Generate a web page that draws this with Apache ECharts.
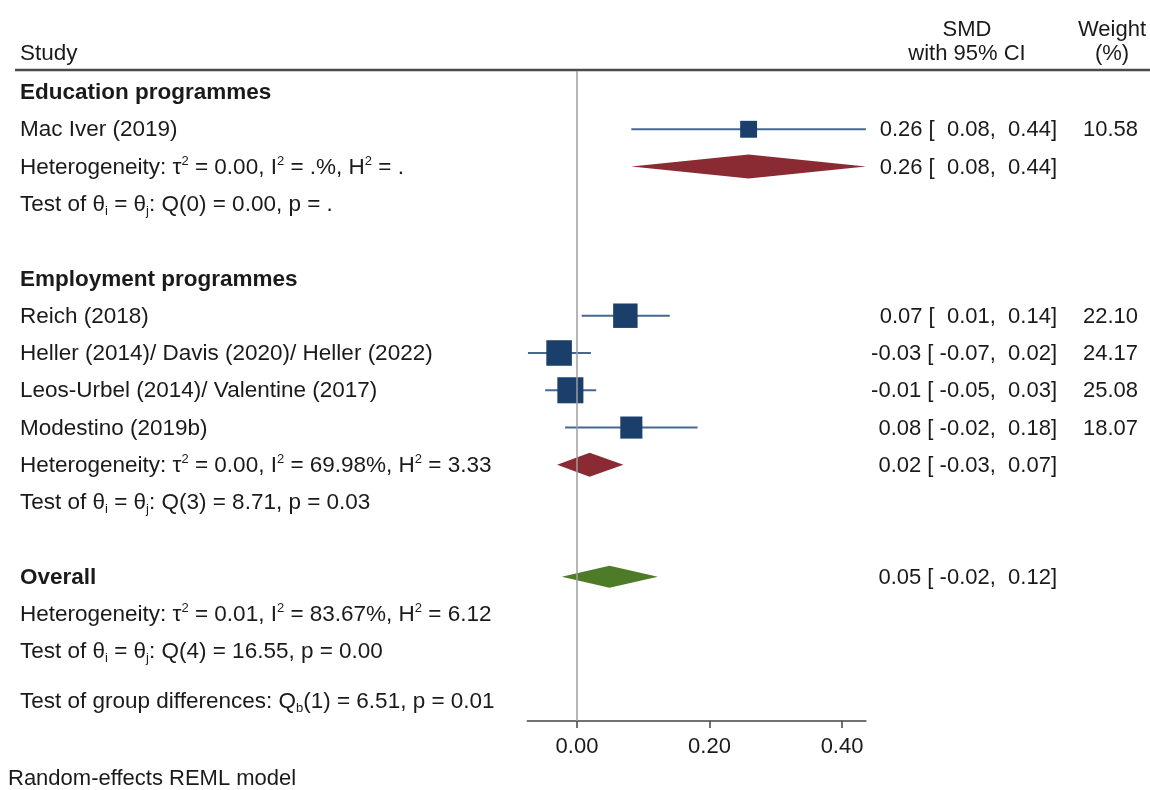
<!DOCTYPE html>
<html>
<head>
<meta charset="utf-8">
<script src="https://cdn.jsdelivr.net/npm/echarts@6/dist/echarts.min.js"></script>
<style>
  html, body { margin: 0; padding: 0; background: #ffffff; }
  #chart { width: 1150px; height: 790px; }
</style>
</head>
<body>
<div id="chart"></div>
<script>
// ---------------- DATA ----------------
// Left-column text, one entry per row (top to bottom)
const rowText = [
  '{b|Education programmes}',
  'Mac Iver (2019)',
  'Heterogeneity: τ{sup|2} = 0.00, I{sup|2} = .%, H{sup|2} = .',
  'Test of θ{sub|i} = θ{sub|j}: Q(0) = 0.00, p = .',
  '',
  '{b|Employment programmes}',
  'Reich (2018)',
  'Heller (2014)/ Davis (2020)/ Heller (2022)',
  'Leos-Urbel (2014)/ Valentine (2017)',
  'Modestino (2019b)',
  'Heterogeneity: τ{sup|2} = 0.00, I{sup|2} = 69.98%, H{sup|2} = 3.33',
  'Test of θ{sub|i} = θ{sub|j}: Q(3) = 8.71, p = 0.03',
  '',
  '{b|Overall}',
  'Heterogeneity: τ{sup|2} = 0.01, I{sup|2} = 83.67%, H{sup|2} = 6.12',
  'Test of θ{sub|i} = θ{sub|j}: Q(4) = 16.55, p = 0.00'
];
const groupTestText = 'Test of group differences: Q{sub|b}(1) = 6.51, p = 0.01';

// Individual studies
const studyRows   = [1, 6, 7, 8, 9];
const studyEst    = [0.259, 0.073, -0.027, -0.010, 0.082];
const studyLo     = [0.082, 0.007, -0.074, -0.048, -0.018];
const studyHi     = [0.436, 0.140, 0.021, 0.029, 0.182];
const studyWeight = [10.58, 22.10, 24.17, 25.08, 18.07];

// Pooled estimates (Education, Employment, Overall)
const poolRows = [2, 10, 13];
const poolEst  = [0.259, 0.019, 0.049];
const poolLo   = [0.082, -0.030, -0.023];
const poolHi   = [0.436, 0.070, 0.122];

// Axis ticks
const xTicks = [0, 0.2, 0.4];
const xMin = -0.075, xMax = 0.436;

// ---------------- STYLE ----------------
const FONT = '"Liberation Sans", Arial, Helvetica, sans-serif';
const TXT = '#1a1a1a';
const poolColors = ['#8a2b33', '#8a2b33', '#4e7b28'];
const poolHeights = [24, 24, 22];
const squareColor = '#1b3f6b';
const ciColor = '#46698f';
const richStyles = {
  b:   { fontWeight: 'bold', fontSize: 22.5, fontFamily: FONT, fill: TXT, lineHeight: 26 },
  sup: { fontSize: 13, fontFamily: FONT, fill: TXT, verticalAlign: 'top', lineHeight: 13 },
  sub: { fontSize: 13, fontFamily: FONT, fill: TXT, verticalAlign: 'bottom', lineHeight: 13 }
};

function fmt(v) { return v.toFixed(2); }
function ciText(e, lo, hi) {
  return fmt(e) + ' [' + (lo < 0 ? ' ' : '  ') + fmt(lo) + ', ' + (hi < 0 ? '' : ' ') + fmt(hi) + ']';
}

// right column entries: rows with SMD text
const smdRows = [], smdStrings = [], wStrings = [];
studyRows.forEach((r, i) => { smdRows.push(r); smdStrings.push(ciText(studyEst[i], studyLo[i], studyHi[i])); wStrings.push(fmt(studyWeight[i])); });
poolRows.forEach((r, i) => { smdRows.push(r); smdStrings.push(ciText(poolEst[i], poolLo[i], poolHi[i])); wStrings.push(''); });

const chart = echarts.init(document.getElementById('chart'), null, { renderer: 'canvas' });

const LEFT_X = 20, SMD_X = 1057, W_X = 1138;

const option = {
  animation: false,
  backgroundColor: '#ffffff',
  grid: { left: 527.3, right: 284.1, top: 71, bottom: 69, containLabel: false },
  xAxis: {
    type: 'value', min: xMin, max: xMax,
    splitLine: { show: false },
    axisLine: { onZero: false, lineStyle: { color: '#444', width: 1.5 } },
    axisTick: { show: true, length: 7, inside: false, customValues: xTicks, lineStyle: { color: '#444', width: 1.5 } },
    axisLabel: { customValues: xTicks, formatter: v => fmt(v), fontSize: 22, fontFamily: FONT, color: TXT, margin: 15 }
  },
  yAxis: { type: 'value', inverse: true, min: -0.563, max: 16.87, show: false },
  graphic: [
    { type: 'line', shape: { x1: 15, y1: 70, x2: 1150, y2: 70 }, style: { stroke: '#4a4a4a', lineWidth: 2.5 } },
    { type: 'text', x: 20, y: 54, style: { text: 'Study', font: '22.5px ' + FONT, fill: TXT, align: 'left', verticalAlign: 'middle' } },
    { type: 'text', x: 967, y: 30, style: { text: 'SMD', font: '22px ' + FONT, fill: TXT, align: 'center', verticalAlign: 'middle' } },
    { type: 'text', x: 967, y: 54, style: { text: 'with 95% CI', font: '22px ' + FONT, fill: TXT, align: 'center', verticalAlign: 'middle' } },
    { type: 'text', x: 1112, y: 30, style: { text: 'Weight', font: '22px ' + FONT, fill: TXT, align: 'center', verticalAlign: 'middle' } },
    { type: 'text', x: 1112, y: 54, style: { text: '(%)', font: '22px ' + FONT, fill: TXT, align: 'center', verticalAlign: 'middle' } },
    { type: 'text', x: 8, y: 779, style: { text: 'Random-effects REML model', font: '22px ' + FONT, fill: TXT, align: 'left', verticalAlign: 'middle' } }
  ],
  series: [
    // zero reference line
    {
      type: 'scatter', data: [], silent: true,
      markLine: { silent: true, symbol: 'none', label: { show: false }, animation: false,
        lineStyle: { color: '#9e9e9e', width: 1.5, type: 'solid' }, data: [{ xAxis: 0 }] },
      z: 1
    },
    // CI lines
    {
      type: 'custom', silent: true, z: 2,
      data: studyRows.map((r, i) => [studyLo[i], studyHi[i], r]),
      renderItem: (params, api) => {
        const p1 = api.coord([api.value(0), api.value(2)]);
        const p2 = api.coord([api.value(1), api.value(2)]);
        return { type: 'line', shape: { x1: p1[0], y1: p1[1], x2: p2[0], y2: p2[1] }, style: { stroke: ciColor, lineWidth: 2 } };
      }
    },
    // study squares
    {
      type: 'scatter', silent: true, z: 3,
      symbol: 'rect',
      data: studyRows.map((r, i) => [studyEst[i], r]),
      symbolSize: (val, params) => 5.2 * Math.sqrt(studyWeight[params.dataIndex]),
      itemStyle: { color: squareColor, opacity: 1 }
    },
    // pooled diamonds
    {
      type: 'custom', silent: true, z: 3,
      data: poolRows.map((r, i) => [poolLo[i], poolEst[i], poolHi[i], r]),
      renderItem: (params, api) => {
        const row = api.value(3);
        const a = api.coord([api.value(0), row]);
        const m = api.coord([api.value(1), row]);
        const b = api.coord([api.value(2), row]);
        const h = poolHeights[params.dataIndex] / 2;
        return { type: 'polygon', shape: { points: [[a[0], a[1]], [m[0], m[1] - h], [b[0], b[1]], [m[0], m[1] + h]] },
          style: { fill: poolColors[params.dataIndex] } };
      }
    },
    // left column text
    {
      type: 'custom', silent: true, z: 5, clip: false,
      data: rowText.map((t, i) => [0, i]).concat([[0, 16.33]]),
      renderItem: (params, api) => {
        const y = api.coord([0, api.value(1)])[1] + 1;
        const txt = params.dataIndex < rowText.length ? rowText[params.dataIndex] : groupTestText;
        return { type: 'text', x: LEFT_X, y: y,
          style: { text: txt, fontSize: 22.5, fontFamily: FONT, fill: TXT, align: 'left', verticalAlign: 'middle', lineHeight: 26, rich: richStyles } };
      }
    },
    // right column: SMD text and weights
    {
      type: 'custom', silent: true, z: 5, clip: false,
      data: smdRows.map(r => [0, r]),
      renderItem: (params, api) => {
        const y = api.coord([0, api.value(1)])[1] + 1;
        return { type: 'group', children: [
          { type: 'text', x: SMD_X, y: y, style: { text: smdStrings[params.dataIndex], fontSize: 22, fontFamily: FONT, fill: TXT, align: 'right', verticalAlign: 'middle' } },
          { type: 'text', x: W_X, y: y, style: { text: wStrings[params.dataIndex], fontSize: 22, fontFamily: FONT, fill: TXT, align: 'right', verticalAlign: 'middle' } }
        ] };
      }
    }
  ]
};
chart.setOption(option);
</script>
</body>
</html>
